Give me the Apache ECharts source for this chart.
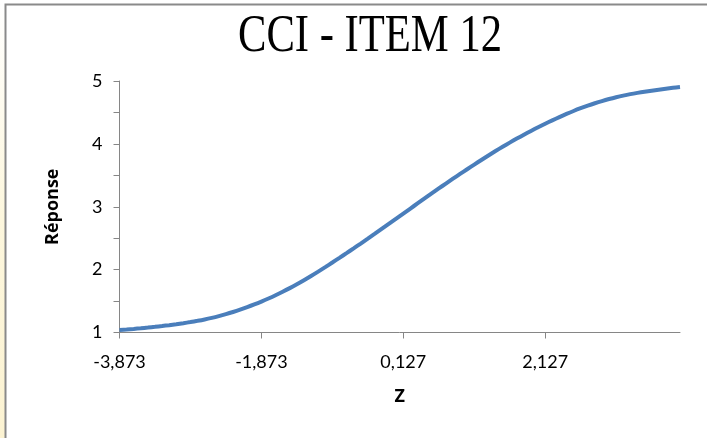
<!DOCTYPE html>
<html>
<head>
<meta charset="utf-8">
<script src="https://cdn.jsdelivr.net/npm/echarts@6/dist/echarts.min.js"></script>
<style>
html,body{margin:0;padding:0;background:#fff;}
#chart{width:707px;height:438px;}
</style>
</head>
<body>
<div id="chart"></div>
<script>
const chartTitle = 'CCI - ITEM 12';
const xAxisName = 'Z';
const yAxisName = 'Réponse';
const zCategories = [
  '-3,873','-3,773','-3,673','-3,573','-3,473','-3,373','-3,273','-3,173','-3,073','-2,973',
  '-2,873','-2,773','-2,673','-2,573','-2,473','-2,373','-2,273','-2,173','-2,073','-1,973',
  '-1,873','-1,773','-1,673','-1,573','-1,473','-1,373','-1,273','-1,173','-1,073','-0,973',
  '-0,873','-0,773','-0,673','-0,573','-0,473','-0,373','-0,273','-0,173','-0,073','0,027',
  '0,127','0,227','0,327','0,427','0,527','0,627','0,727','0,827','0,927','1,027',
  '1,127','1,227','1,327','1,427','1,527','1,627','1,727','1,827','1,927','2,027',
  '2,127','2,227','2,327','2,427','2,527','2,627','2,727','2,827','2,927','3,027',
  '3,127','3,227','3,327','3,427','3,527','3,627','3,727','3,827','3,927','4,027'
];
const reponseValues = [
  1.040,1.048,1.057,1.067,1.078,1.090,1.103,1.117,1.132,1.148,
  1.166,1.186,1.208,1.233,1.261,1.292,1.326,1.363,1.403,1.446,
  1.492,1.541,1.593,1.648,1.706,1.767,1.831,1.898,1.968,2.040,
  2.113,2.187,2.262,2.338,2.415,2.493,2.572,2.652,2.732,2.812,
  2.892,2.972,3.052,3.132,3.212,3.291,3.369,3.446,3.522,3.597,
  3.671,3.744,3.816,3.886,3.954,4.020,4.084,4.146,4.206,4.264,
  4.320,4.374,4.426,4.476,4.523,4.567,4.608,4.646,4.681,4.713,
  4.742,4.768,4.791,4.811,4.829,4.846,4.862,4.877,4.891,4.904
];
const yMin = 1, yMax = 5, yStep = 1;
const xLabelEvery = 20;

const chart = echarts.init(document.getElementById('chart'), null, {renderer:'canvas'});
const axisGray = '#868686';
const labelFont = 'Lato';
const nameFont = 'Open Sans';
chart.setOption({
  backgroundColor: '#ffffff',
  animation: false,
  graphic: [
    {type:'rect', shape:{x:0,y:0,width:5,height:438},
     style:{fill:new echarts.graphic.LinearGradient(0,0,0,1,[{offset:0,color:'#ffffff'},{offset:0.5,color:'#fdf7dd'},{offset:1,color:'#fcf3d2'}])}, silent:true, z:-1},
    {type:'rect', shape:{x:5.5,y:4.5,width:720,height:460},
     style:{fill:'none', stroke:'#8a8a8a', lineWidth:2}, silent:true, z:-1},
    {type:'text', x:370, y:37, scaleX:0.82,
     style:{text:chartTitle, font:'52px "Liberation Serif"', textAlign:'center', textVerticalAlign:'middle', fill:'#000',
            textShadowColor:'rgba(0,0,0,0.12)', textShadowBlur:0, textShadowOffsetX:1.5, textShadowOffsetY:1.5}}
  ],
  grid: {left:119.5, right:27, top:81, bottom:105.5, containLabel:false},
  xAxis: {
    type:'category', data:zCategories, boundaryGap:false,
    name:xAxisName, nameLocation:'middle', nameGap:55,
    nameTextStyle:{fontFamily:nameFont, fontWeight:'bold', fontSize:18, color:'#000'},
    axisLine:{lineStyle:{color:axisGray, width:1}},
    axisTick:{show:true, interval:xLabelEvery-1, length:6, lineStyle:{color:axisGray}},
    axisLabel:{interval:xLabelEvery-1, fontFamily:labelFont, fontSize:18, color:'#000', margin:21},
    splitLine:{show:false}
  },
  yAxis: {
    type:'value', min:yMin, max:yMax, interval:yStep,
    name:yAxisName, nameLocation:'middle', nameGap:58, nameRotate:90,
    nameTextStyle:{fontFamily:nameFont, fontWeight:'bold', fontSize:18, color:'#000'},
    axisLine:{show:true, lineStyle:{color:axisGray, width:1}},
    axisTick:{show:true, length:6, lineStyle:{color:axisGray}},
    minorTick:{show:true, splitNumber:2, length:6, lineStyle:{color:axisGray}},
    axisLabel:{fontFamily:labelFont, fontSize:18, color:'#000', margin:17},
    splitLine:{show:false}
  },
  series: [{
    type:'line', data:reponseValues, smooth:0.3, showSymbol:false,
    lineStyle:{color:'#4a7ebb', width:4}, itemStyle:{color:'#4a7ebb'}
  }]
});
</script>
</body>
</html>
